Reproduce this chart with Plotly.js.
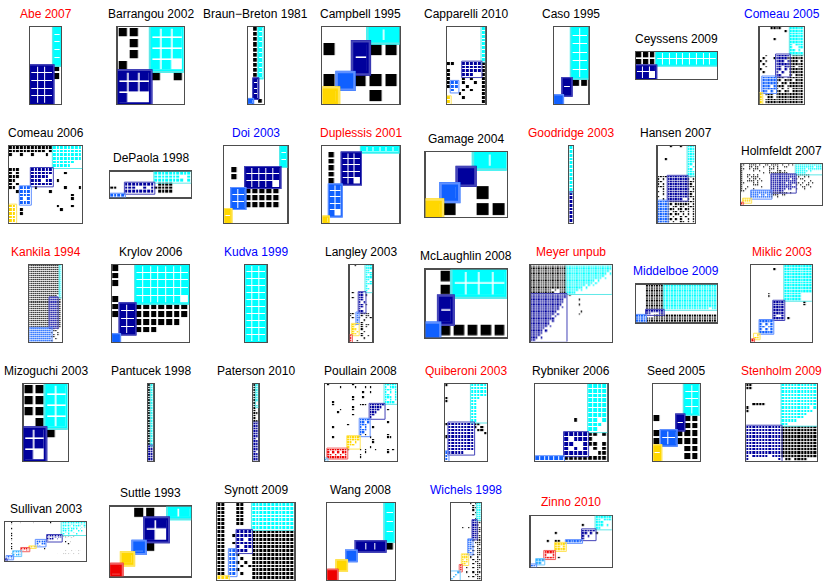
<!DOCTYPE html>
<html>
<head>
<meta charset="utf-8">
<script src="https://cdn.plot.ly/plotly-3.0.1.min.js"></script>
<style>body{margin:0;background:#fff}#plotArea{width:830px;height:581px}</style>
</head>
<body>
<div id="plotArea"></div>
<script>
// Study labels and the colour of each label
var names = ["Abe 2007", "Barrangou 2002", "Braun\u2212Breton 1981", "Campbell 1995", "Capparelli 2010", "Caso 1995", "Ceyssens 2009", "Comeau 2005",
  "Comeau 2006", "DePaola 1998", "Doi 2003", "Duplessis 2001", "Gamage 2004", "Goodridge 2003", "Hansen 2007", "Holmfeldt 2007",
  "Kankila 1994", "Krylov 2006", "Kudva 1999", "Langley 2003", "McLaughlin 2008", "Meyer unpub", "Middelboe 2009", "Miklic 2003",
  "Mizoguchi 2003", "Pantucek 1998", "Paterson 2010", "Poullain 2008", "Quiberoni 2003", "Rybniker 2006", "Seed 2005", "Stenholm 2009",
  "Sullivan 2003", "Suttle 1993", "Synott 2009", "Wang 2008", "Wichels 1998", "Zinno 2010"];
var titleColors = ["R","K","K","K","K","K","K","B",
  "K","K","B","R","K","R","K","K",
  "R","K","B","K","K","R","B","R",
  "K","K","K","K","R","K","K","R",
  "K","K","K","K","B","R"];

// Interaction matrices (rows = phages, cols = bacteria)
// '.' no infection, 'k' infection outside a module, letters = module the cell belongs to
// spaces are only there to make the columns easier to count
var abe2007 = ["...c","...c","...c","...c","...c","dddk","dddk","ddd.","ddd.","ddd."];
var barrangou2002 = ["kk.ccc",".k.ccc",".k.ccc","k..cc.","dddk.k","ddd...","d....."];
var braunBreton1981 = [".kc",".kc",".kc",".kc",".kc",".kc",".kc",".kc",".kc",".kc",".d.",".d.",".d.",".d.","b.k"];
var campbell1995 = ["...cc","k.dkk","..d..","kbkkk","y..k."];
var capparelli2010 = [".........c",".........c",".........c",".........c",".........c",".........c",".........c",".........c",".........c",
  "kk..dddddk","....dddddk","k...dddddk","k...ddd..k","k...k.k..k","kbb.k..k.k","kbb..k...k",".b..k.k..k","...k.....k","y...k....k","y........k"];
var caso1995 = ["..cc","..cc","..cc","..cc","..cc","..cc",".dkk",".d..","b..."];
var ceyssens2009 = ["kkkccccccccc","kkkccccccccc","ddd.........","dd.........."];
var comeau2005 = ["....kkkk...ccccc",".........k.ccccc","...........ccccc","...........ccccc",".....k.....ccccc","...........ccccc",
  "...........c.ccc","...........c..cc","...........cc.c.","...........ccccc",
  "..k...ddddd.kkkk",".k...kddddkkkkkk","k.k...ddd.dkkk.k",".k....dddddkkkkk","..k...dd.ddkk.kk","k.....dd.d.kkkkk",".k....d.d..kkkkk","......dd...k.kkk",
  ".bbbbbkkk.kkkkkk",".bbbbbkk.kkk.kkk",".bbbbbk.kk.kkkkk",".bbb.bkkk.kkkkkk",".bbbbbk.k.k.kkkk",".bb.b.kk.kk.kkkk",
  "y.kkk.kkkkkkkkkk","y..kk.kkkkkkkkkk","y.kkkkkkkkkkkkkk","y.kkkkkkkkkkkkkk"];
var comeau2006 = ["kkkkkkkkkkkkcccccccc","kkkkkkkkkk.kcccccccc","k..k..k...k.cccccccc","............cccccccc","............cccccc..","............ccccc...",
  "kkk...dddddd........","k.k...dddddd...k....","kkk...ddddd.........","kk....ddd.dd.k......","k.k...dddddd........",
  "kk.bbb.k.......k...k","..kbbb.....k........","...bbb...........k..","...b.b...........k..","...bbb..............",
  "yy...........k...k..","yy.k..........k.....","yy.k................","yy..................","yy.................."];
var depaola1998 = ["............cccccccccc","............ccccccc..c","............cccccccc.c",
  "....dddddddd.kkkk.....","kk..ddd..d.dkkkkk.....","....dddddddd.kkkk.....","bbbb.................."];
var doi2003 = ["........c","........c","........c",".k.ddddd.",".k.ddddd.","...dddd..",".bbkkkkk.",".bbkkkkk.",".bbkkkkk.","y........","y........"];
var duplessis2001 = ["......cccccc",".k.ddd",".k.ddd",".k.ddd",".k.ddd",".k.dd.",".bb",".bb",".bb",".bb",".b.","y"];
var gamage2004 = ["...cc","..d..",".b.k.","yk.kk"];
var goodridge2003 = ["c","c","c","c","c","c","c","c","c","c","c","c","d","d","d","d","d","d","d","d"];
var hansen2007 = [".....k...k..ccc","............ccc","............ccc","............ccc","............ccc","...k........ccc",
  "............ccc","............cc.","............c.c","............cc.","............ccc","............ccc",
  "kkkkddddddddkkk","k.k.ddddddddk.k","kk..ddddddddkkk","k.k.ddddddddkk.","kkk.ddddddddkkk","..k.ddddddddk.k",
  "k.k.ddddddddkkk","..k.ddddddddkk.","k...ddddddddkkk","..k.dddddd..k.k",
  "bbbbkkkkkkkkkkk","bbbbkk.kkkkkk.k","bbbbk.kk.kk.kkk","bbbbkkk.kk.kk.k","bbbbk.kk.kk.k.k",
  "bbbbkk.kk.k.k.k","bbbbk.k..k.k..k","bbbbkk.k.k..k.k","bbbbk.k..kk.k.k"];
var holmfeldt2007 = [
  "kk..k kkk.k ..kk. kkkk. k..k. k.ccc ccccc ccccc",
  "k...k k.kk. .k..k .k.k. .kk.. ..ccc ccccc c.ccc",
  "kk..k .kkk. ....k kk.k. ..... ..ccc cc.cc ccccc",
  "k.... .k..k ....k ...kk .k... ..ccc ccc.c .....",
  "k.... ..... .k..k kkkkk kkk.. ..ccc cc... .....",
  "k..kk .k.k. ..... ddddd ddddd ddkkk kkkk. .....",
  "k..k. kkkk. ..... ddddd ddddd dd.k. .k.k. .....",
  "k...k .kk.k ..... ddddd dddd. ddk.k k.... .....",
  "k..kk kk.k. k.... ddddd ddddd dd... .k..k .....",
  "kk... .k.k. ..... ddddd dd.dd ddkk. k..k. k....",
  "k.... .kkk. ..... ddddd ddddd ..k.k ..kk. .....",
  "k..k. ..... k.... ddddd ddddd dd... kk..k .....",
  "k.k.. .k... ..... ddddd dd.dd ..k.. .k... .....",
  "kk... bbbbb bbbbb ddddd d....",
  "..... bbbbb bbbbb kkkkk kkk.k",
  "..... bbbb. bb.bb kkkk. kk...",
  "..... bbbbb bbbbb k..k.",
  ".yyyy",
  ".yyyy",
  "r...."];
var kankila1994 = ["kkkkk kkkkk kkkkk c","kkkkk kkkkk kkkkk c","kkkkk kkkkk kkkkk c","kkkkk kkkkk kkkkk c","kkkkk kkkkk kkkkk c",
  "kkkkk kkkkk kkkkk c","kkkkk kkkkk kkkkk c","kkkkk kkkkk kkkkk c","kkkkk kkkkk kkkkk c","kkkkk kkkkk kkkkk c",
  "kkkkk kkkkk kkkkk c","kkkkk kkkkk kkkkk c","kkkkk kkkkk kkkkk c","kkkkk kkkkk kkkkk c","kkkkk kkkkk kkkkk c",
  "kkkkk kkkkk kkkk. c",
  "kkkkk kkkkk dddd kk","kkkkk kkkkk dddd kk","kkkkk kkkkk dddd kk","kkkkk kkkkk dddd kk","kkkkk kkkkk dddd kk",
  "kkkkk kkkkk dddd kk","kkkkk kkkkk dddd kk","kkkkk kkkkk dddd kk","kkkkk kkkkk dddd kk","kkkkk kkkkk dddd kk",
  "kkkkk kkkkk dddd kk","kkkkk kkkkk dddd kk","kkkkk kkkkk dddd kk","kkkkk kkkkk dddd kk","kkkkk kkkkk dddd kk",
  "bbbbb bbbbb bkk.k .","bbbbb bbbbb b.kk. .","bbbbb bbbbb bk..k .","bbbbb bbbbb b.k.k .",
  "bbbbb bbbbb bkk.. .","bbbbb bbbbb b..k. .","bbbbb bbbbb bk... ."];
var krylov2006 = ["k..ccccccc","k..ccccccc","k..ccccccc","...ccccccc","k..cccccc.","kddkkkkkkk","kddkkkkkkk",".ddkkkkkk.",".ddkkk....","b........."];
var kudva1999 = ["ccc","ccc","ccc","ccc","ccc","ccc","ccc","ccc","ccc","ccc","ccc"];
var langley2003 = ["..k....ccc",".......ccc",".......cc.",".......ccc",".......c.c",".......ccc",".......cc.",".......c.c",
  ".......ccc",".......c..",".......cc.",".......c..",
  ".k..dd....","....dd.k..",".k..dd....","....dd....","....d.d...","....dd.k..","....dd....","....d.....","....dd....",
  "kk.b.kkkk.","k..b.k.kk.",".k.bk..k.k","...b..k...","...b.k....",
  ".yy..k.kk.",".y...k.k..",".yy..k....",".y.y..k...",".yy..k....",
  "r....k..k.","r.....k...","r..k......"];
var mclaughlin2008 = [".kcccc",".kcccc",".d....",".d....","bkkkkk"];
var meyerUnpub = [
  "kkkkk kkkkk kkkkk ccccc ccccc ccccc cccc",
  "kkkkk kkkkk kkkkk ccccc ccccc ccccc cccc",
  "kkkkk kkkkk kkkkk ccccc ccccc ccccc ccc.",
  "kkkkk kkkkk kkkkk ccccc ccccc ccccc cc.c",
  "kkkkk kkkkk kkkkk ccccc ccccc ccccc c...",
  "kkkkk kkkkk kkkkk ccccc ccccc ccccc .c..",
  "kkkkk kkkkk kkkkk ccccc ccccc cc.c. ....",
  "kkkkk kkkkk kkkkk ccccc ccccc c.c.. ....",
  "kkkkk kkkkk kkkkk ccccc ccc.c .c... ....",
  "kkkkk kkkkk kkkkk ccccc cc.c. ..... ....",
  "kkkkk kkkk. k.kkk ccccc .c... ..... ....",
  "kkkkk kkkkk ..kkk cccc. ..... ..... ....",
  "ddddd ddddd ddddd .k",
  "ddddd ddddd ddddd",
  "ddddd ddddd dddd. ..... k",
  "ddddd ddddd dddd.",
  "ddddd ddddd ddd.. ..... k",
  "ddddd ddddd dd.d.",
  "ddddd ddddd dd...",
  "ddddd ddddd d.... ..... .k",
  "ddddd ddddd .d... ..... k",
  "ddddd dddd. d....",
  "ddddd ddddd .....",
  "ddddd ddd.d .....",
  "ddddd ddd.. .....",
  "ddddd dd.d. .....",
  "ddddd d.... .....",
  "ddddd .d... .....",
  "ddddd ..... .....",
  "dddd. ..... .....",
  "ddd.d ..... .....",
  "dd... ..... ....."];
var middelboe2009 = [".... kkkkkkk ccccc ccccc ccccc cccccc",".... kkkkkkk ccccc ccccc ccccc cccccc",".... kkkkkkk ccccc ccccc ccccc cccccc",
  ".... kkkkkkk ccccc ccccc ccccc cccccc",".... kkkkkkk ccccc ccccc ccccc cccccc",".... kkkkkkk ccccc ccccc ccccc cccccc",
  ".... kkkkkkk ccccc ccccc ccccc cccccc",".... kkkkkkk ccccc ccccc ccccc cccccc",".... kkkkkkk ccccc ccccc ccccc cccccc",
  ".... kkkkkkk ccccc ccccc ccccc ccc.cc",".... ddddddd",".... dd...dd",
  "bbbb ...kkkk kkkkk kkkkk kkkkk kkkkkk","bbbb kkkkkkk kkkkk kkkkk kkkkk kkkkkk","bbbb kkkkkkk kkkkk kkkkk kkkkk kkkkkk"];
var miklic2003 = ["..... ..... ..ccc ccccc cc","..... ...k. ..ccc ccccc cc","..... ..... ..ccc ccccc cc","..... ..... ..ccc ccccc cc",
  "..... ..... ..ccc ccccc cc","..... ..... ..ccc ccccc cc","..... ..... ..ccc ccccc cc","..... ..... ..ccc ccccc cc",
  "..... ..... ..ccc ccccc cc","..... ..... ..ccc ccccc cc","..... .k... ..ccc ccc.. ..","..... .k... ..ccc ccc.. ..",
  "..... ..... ..ccc ccc.. ..","..... ...dd dd... ....k ..","..... ...dd dd... ....k ..","..... ...dd dd","..... ...dd dd",
  "..... ...dd dd","..... ...d. .d","..... ...dd dd.k.",
  "...bb bbb","...b. b.b","...bb .bb","...b. b.b","...bb bbb","..y..",".yy..","r...."];
var mizoguchi2003 = ["kkcc","kkcc","kkcc",".kcc","ddk.","dd..","d..."];
var pantucek1998 = ["kc","kc","kc","kc","kc","kc","kc","kc","kc","kc","kc","kc","kc","kc","kc","kc","kc","kc","kc","kc","kc","kc","kc","kc",
  "dd","dd","dd","dd","dd","dd"];
var paterson2010 = ["kc","kc","kc","kc","kc","kc","kc","k.","kc","k.","k.","kk","k.","k.","kk",
  "dd","dd","dd","dd","dd","dd","d.","dd","dd","dd","dd","d.","dd","dd","dd"];
var poullain2008 = [
  ".k... ..... .k... ..... ....c cccc",
  "..... .k... ..k.. .k.k. ....c .ccc",
  "..... ..... ..... ..... ....c cc.c",
  "..... ..... ..... k..k. ....c .c.c",
  "..... ..... ..... ..... ....c c..c",
  "..... ..... .k... k.... ....c cc.c",
  "..... ..... .k... ..... ....c .c.c",
  "...k. ..... ..... ..... ....c ccc.",
  "...k. ..... ....k kk.dd dddd. ....",
  "..... ..... .k... ...dd ddd.. ....",
  "..... .k... .k... ...dd dd... k...",
  "..... k.... ..... ...dd d.... ....",
  "..... ..... .k... ...dd ..... ....",
  "..... ..... ..... ...d. ..... ....",
  "..... ..... ....b bbb.. ..... ....",
  "..... ..... ....b b.b.. ..... k...",
  "..... ....k ....b bb... ..... ....",
  "...k. ..... ....b .b..k ..... ....",
  "..... ..... ....b bb... ..... ....",
  "..... ..... ....b b.... ..... ....",
  "..... ..... ....b .k... ..... k...",
  "...k. ....y yyyy. ...k. ..... kk..",
  "..... ....y yyyy. ....k ..... ....",
  "..... ....y y.y.. ....k ..... ....",
  "..... ....y yy... ..... ..... ....",
  "..... ....y ..... ...k. ..... ....",
  ".rrrr rrrrk ....k .k... k.... k.k.",
  ".r.r. r.rr. ..... .k... ..... k...",
  ".rr.r .r.r. ....k ..... ..... ....",
  ".rrrr rrrr. ....k ..... ..... ....",
  "s.... ..... ..... ..... ..... ...."];
var quiberoni2003 = ["k.... ...cc ccc","..... ...cc ccc","..... ...cc ccc","..... ...cc ccc","k.... ...cc c..","k.... ...cc ...",
  "..... ...cc ...","..... ...cc ...","..... ...cc ...","..... ...cc ...","..... ...cc ...","..... ...cc ...",
  "kdddd ddddk k..",".dddd ddddk .k.",".dddd dddd. kk.",".dddd dddd. ..k","kdddd dddd. ...",".dddd dddd. ...",
  ".dddd dddd. ...",".dddd dddd. ...",".dddd dddd. ...","bdddd d.... ...","b.... ..... ...","b.... ..... ..."];
var rybniker2006 = ["..... ..... .cccc","..... ..... .cccc","..... ..... .cccc","..... ..... .cccc","..... ..... .cccc",
  "..... ..... .cccc","..... ..... .cccc","..... ...k. .cc.c","..... ..... .ccc.","..... ..... .cc..",
  "..... .dddd dkk.k","..... .d.dd dk...","..... .dd.. dkk.k","..... .d.d. d.k.k","..... .dddd d..kk","bbbbb bkkkk kkkkk"];
var seed2005 = ["....cc","....cc","....cc","....cc","k..dkk","...dkk","kbbkkk","kbbkkk","y...kk","y...kk"];
var stenholm2009 = ["kk... ..... .cccc ccccc cc","kk... ..... .cccc ccccc cc","..... ..... .cccc ccccc cc","..... ..... .cccc ccccc cc",
  "..... ..... .cccc ccccc cc","..... ..... .cccc ccccc cc","..kkk k.... .cccc ccccc cc","k.... ..... .cccc ccccc .c",
  "k.... ..... .cccc ccccc c.","..... ..... .cccc cccc. ..","..... ..... .cccc ccc.. ..","..... ..... .cccc c.... ..",
  "..... ..... .cc.. ..... ..",
  "ddddd ddddd dkkkk kkkkk kk","ddddd ddddd dkkkk kkkkk kk","ddddd ddddd dkkkk kkkkk kk","ddddd ddddd dkkkk kkkkk kk",
  "ddddd ddddd dkkkk kkkkk kk","ddddd ddddd dkkkk kkkkk kk","ddddd ddddd dkkkk kkkkk kk","ddddd ddddd dkkkk kkkkk kk",
  "ddddd ddddd dkkkk kkkkk kk","d.ddd dd.dd dkkkk kkkkk kk","d.... ..... d.kk. kkkk. .."];
var sullivan2003 = [
  "....k ....k ..... ..k.. ..... ...k. ..... ccccc ccccc ccccc",
  "....k ..... ..... ..... ..... ..... ..... ccccc cccc. ccccc",
  "..... ..... ..... ..... ..... ..... ..... ccccc c.ccc cc.cc",
  "....k ..... ..... ..... ..... ..... ..... cc.cc ccccc ..c.c",
  "....k ..... ..... ..... ..... ..... ..... ccccc .cc.c .c...",
  "..... ..... ..... ..... ..... ..... ..... ccc.c cc... c.c..",
  "....k ..... ..... ..... ..... ..... ..... c.ccc ..c.. .....",
  "....k ..... ..... ..... ..... ..... ..... cc..c ....c .....",
  "....k ..... ..... ..... ..... .dddd ddddd .kkkk k.k.. .....",
  "..... ..... ..... ..... ..... .dd.d dd.dd ..kk. kk... .....",
  "....k ..... ..... ..... ..... .dddd ..d.. k.... ..... .....",
  "....k ..... ..... ....b bbbbb .d... ..... ...k. ..... .....",
  "..... ..... ..... ....b bbbbb ..... ..... ..k.. k.... .....",
  "....k ..... ..... ....b b.bbb ..... ..... ...kk ..... .....",
  "..... ..... ..... ....b bb... ..... ..... ..... ..... .....",
  "....k ..... ..... yyyy. ..... ..... ..... ..... ..... .....",
  "....k ..... rrrrr ..... ....k ..... ..... ..... ..... .....",
  "..... ..... rr.rr ..... ..... ..... ..... ..k.. .k.k. kk...",
  "..... sssss ..... ..... ..... ..... ..... ..... ..... .....",
  "....k ss.ss ..... ..... ..... ..... ..k.. .kk.k k.k.. k....",
  "..... s.sss ..... ..... ..... ..... ..... ..... ..... .....",
  ".eeee ..... ..... ..... ..... ..... ..... ..... ..... .....",
  ".ee.e ..... ..... ..... ..... ..... ..... ..... ..... .....",
  "n.... ..... ..... ..... ..... ..... ..... ..... ..... ....."];
var suttle1993 = ["..kk.cc","...dd..","...d...","..bk...",".y.....","r......"];
var synott2009 = ["kk... kk..c ccccc ccccc","kk... kk..c ccccc ccccc","kk... kk..c ccccc ccccc","kk... kk..c ccccc ccccc",
  "kk... kk..c ccccc ccccc","kk... kk..c ccccc ccccc","kk... ....c ccccc ccccc",
  "kk... ddddk kkkkk kkkkk","kk..k ddddk kkkkk kkkkk","kk... dd.dk kkkkk kkkkk","kk..k ddddk kkkkk kkkkk","kk... d.ddk kkkkk kkkkk",
  "kk.bb ddd.k kkkkk kkkkk","kk.bb k...k kkkkk kkkkk","kk.bb .k..k kkkkk kkkkk","kk.bb k.k.k kkkkk kkkkk",
  "kk.bb .k.kk kkkkk kkkkk","kk.bb k...k kkkkk kkkkk","kk.bb .k..k kkkkk kkkkk","yyy.. ....k kkkkk kkkkk"];
var wang2008 = ["......c","......c","......c","......c","...dddk","..b....",".y.....","r......"];
var wichels1998 = ["..... ....k .kcc","..... ..... k.cc","..... ..... kkcc","..... ..... k.cc","..... ..... .kcc","..... ..... k.cc",
  "..... ..... ..cc","..... ..... .kcc","..... ..... ddkk","..... ..... ddkk","..... ..... ddk.","..... k..k. ddkk",
  "..... ..... ddkk","..... ..... ddkk","..... ..... ddk.","..... ..... ddkk","..... ..... ddkk",
  "..... ...bb k.kk","..... ...bb .kkk","..... ...bb ..kk","..... ...bb k.k.","..... ...bb ..kk","..... ...b. k.kk","..... ...bb ..kk",
  "..... yyy.. k.kk","..... yyy.k ..k.","..... y.y.. k.kk","..... yyy.. .kk.","..... yy... k.kk",
  "....r ..... ..kk","....r ..k.. k.kk","....r ..... ..k.","...s. ..k.. k.kk","..s.. ..... .kk.",".s... ...k. k.kk","s.... ..... ..kk"];
var zinno2010 = [
  "..... ..... ..... ..... ....c ccccc",
  "..... ..... ..... ..... ....c c.ccc",
  "..... ..... ..... ..... ....c cc...",
  "..... ..... ..... ....k ....c cc.c.",
  "..... ..... ..... ..... ....c c....",
  "..... ..... ..... ....d dddd. .....",
  "..... ....k ..... ....d d.d.k .....",
  "..... ..... ..... ....d .d... .....",
  "..... ..... ..... ....d ..... .....",
  "..... .k..k k..bb bbbb. ..... .....",
  "..... ....y yyy..",
  "..... ....y y.y..",
  "..... ....y yyy..",
  "..... rrrr.",
  "..... r..r.",
  "..... rrrr. k....",
  "..sss",
  "..ss.",
  "ee..."];

var matrices = [abe2007, barrangou2002, braunBreton1981, campbell1995, capparelli2010, caso1995, ceyssens2009, comeau2005,
  comeau2006, depaola1998, doi2003, duplessis2001, gamage2004, goodridge2003, hansen2007, holmfeldt2007,
  kankila1994, krylov2006, kudva1999, langley2003, mclaughlin2008, meyerUnpub, middelboe2009, miklic2003,
  mizoguchi2003, pantucek1998, paterson2010, poullain2008, quiberoni2003, rybniker2006, seed2005, stenholm2009,
  sullivan2003, suttle1993, synott2009, wang2008, wichels1998, zinno2010];

// module colours (fill, outline) in the order cyan, navy, blue, sky, yellow, red
var moduleFill = ["#00FFFF", "#00009C", "#1060FF", "#1EAAFF", "#FFD700", "#EE0000"];
var moduleEdge = ["#5EE8E8", "#4444B8", "#6090FF", "#70C8FF", "#FFE45A", "#F26060"];
var moduleCode = {c: 0, d: 1, n: 1, b: 2, e: 2, s: 3, y: 4, r: 5};
var labelColor = {R: "#FF0000", B: "#0000FF", K: "#000000"};

var nMod = moduleFill.length;
var modScale = [];
moduleFill.forEach(function(col, i){
  modScale.push([i / nMod, col]);
  modScale.push([(i + 1) / nMod, col]);
});

var data = [];
var shapes = [];
var annotations = [];
var layout = {
  width: 830, height: 581,
  margin: {l: 0, r: 0, t: 0, b: 0},
  paper_bgcolor: "white", plot_bgcolor: "white",
  showlegend: false
};

var axisStyle = {showgrid: false, zeroline: false, showticklabels: false, ticks: "",
  showline: true, mirror: true, linecolor: "#4d4d4d", linewidth: 1.3, fixedrange: true};

matrices.forEach(function(rows, p){
  var grid = rows.map(r => r.replace(/ /g, ""));
  var nr = grid.length;
  var nc = Math.max.apply(null, grid.map(r => r.length));
  grid = grid.map(r => r.padEnd(nc, "."));

  // panel placement: 8 per row, cells kept square
  var gx = p % 8, gy = Math.floor(p / 8);
  var cx = 45.5 + 105.15 * gx, cy = 65.5 + 119 * gy;
  var w, h;
  if (nc / nr > 81 / 77) { w = 81; h = 81 * nr / nc; } else { h = 77; w = 77 * nc / nr; }
  var pitch = w / nc;

  var sfx = p === 0 ? "" : String(p + 1);
  layout["xaxis" + sfx] = Object.assign({domain: [(cx - w / 2) / 830, (cx + w / 2) / 830], range: [-0.5, nc - 0.5], anchor: "y" + sfx}, axisStyle);
  layout["yaxis" + sfx] = Object.assign({domain: [1 - (cy + h / 2) / 581, 1 - (cy - h / 2) / 581], range: [nr - 0.5, -0.5], anchor: "x" + sfx}, axisStyle);

  var zMod = [], zBlack = [], boxes = {}, hasBlack = false;
  grid.forEach(function(r, i){
    var mRow = [], bRow = [];
    r.split("").forEach(function(ch, j){
      if (ch === "k") { bRow.push(1); mRow.push(null); hasBlack = true; }
      else if (ch in moduleCode) {
        mRow.push(moduleCode[ch] + 0.5); bRow.push(null);
        var b = boxes[ch] || (boxes[ch] = {r0: i, r1: i, c0: j, c1: j});
        b.r0 = Math.min(b.r0, i); b.r1 = Math.max(b.r1, i);
        b.c0 = Math.min(b.c0, j); b.c1 = Math.max(b.c1, j);
      } else { mRow.push(null); bRow.push(null); }
    });
    zMod.push(mRow); zBlack.push(bRow);
  });

  var mgap = pitch >= 10 ? 1.6 : (pitch >= 3 ? 1 : 0.6);
  var bgap = Math.max(0.8, pitch * 0.25);
  data.push({type: "heatmap", z: zMod, xaxis: "x" + sfx, yaxis: "y" + sfx, colorscale: modScale, zmin: 0, zmax: nMod,
    showscale: false, xgap: mgap, ygap: mgap, hoverinfo: "skip"});
  if (hasBlack) {
    data.push({type: "heatmap", z: zBlack, xaxis: "x" + sfx, yaxis: "y" + sfx, colorscale: [[0, "#000"], [1, "#000"]], zmin: 0, zmax: 1,
      showscale: false, xgap: bgap, ygap: bgap, hoverinfo: "skip"});
  }

  // module frame: a band in the module colour hides the ends of the white cell gaps,
  // then a lighter outline sits just round it
  var lw = Math.min(2.2, Math.max(1, pitch * 0.16));
  var band = Math.min(5, pitch * 0.32);
  var ex = 0.5 * lw / pitch;
  Object.keys(boxes).forEach(function(ch){
    var b = boxes[ch], k = moduleCode[ch];
    if (pitch >= 5) {
      shapes.push({type: "rect", xref: "x" + sfx, yref: "y" + sfx, x0: b.c0 - 0.5, x1: b.c1 + 0.5, y0: b.r0 - 0.5, y1: b.r1 + 0.5,
        line: {color: moduleFill[k], width: band}, layer: "above"});
    }
    shapes.push({type: "rect", xref: "x" + sfx, yref: "y" + sfx, x0: b.c0 - 0.5 - ex, x1: b.c1 + 0.5 + ex, y0: b.r0 - 0.5 - ex, y1: b.r1 + 0.5 + ex,
      line: {color: moduleEdge[k], width: lw}, layer: "above"});
  });

  annotations.push({text: names[p], xref: "paper", yref: "paper", x: cx / 830, y: 1 - (cy - h / 2 - 13.5) / 581,
    showarrow: false, xanchor: "center", yanchor: "middle",
    font: {family: "Liberation Sans, Arial, sans-serif", size: 12, color: labelColor[titleColors[p]]}});
});

layout.shapes = shapes;
layout.annotations = annotations;

Plotly.newPlot("plotArea", data, layout, {staticPlot: true});
</script>
</body>
</html>
